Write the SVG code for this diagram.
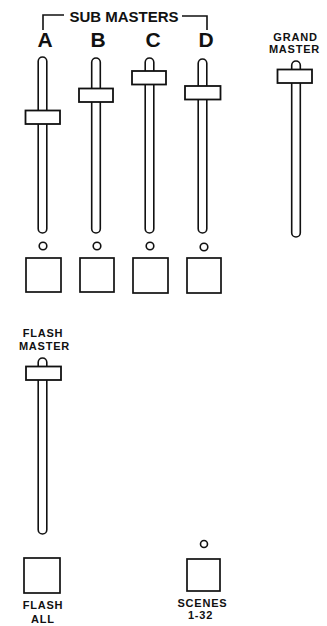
<svg xmlns="http://www.w3.org/2000/svg" width="327" height="626" viewBox="0 0 327 626">
<style>
.ln{fill:none;stroke:#111;stroke-width:1.6}
.trk{fill:#fff;stroke:#111;stroke-width:1.6}
.knob{fill:#fff;stroke:#111;stroke-width:1.8}
.btn{fill:#fff;stroke:#111;stroke-width:1.7}
.led{fill:#fff;stroke:#111;stroke-width:1.6}
.big{font-family:"Liberation Sans",Arial,sans-serif;font-weight:bold;font-size:21px;fill:#111;text-anchor:middle}
.hd{font-family:"Liberation Sans",Arial,sans-serif;font-weight:bold;font-size:15px;fill:#111;text-anchor:middle}
.sm{font-family:"Liberation Sans",Arial,sans-serif;font-weight:bold;font-size:11px;letter-spacing:0.8px;fill:#111;text-anchor:middle}
</style>
<g id="connectors">
<path class="ln" d="M43,30 V15 H64"/>
<path class="ln" d="M182,16 H207 V30"/>
</g>
<g id="sub-masters-label"><text class="hd" x="124" y="21.5">SUB MASTERS</text></g>
<g id="fader-A">
<text class="big" x="45" y="47">A</text>
<rect class="trk" x="38.2" y="57" width="8.6" height="176" rx="4.3"/>
<rect class="knob" x="25.5" y="110.5" width="34.5" height="13.5"/>
<circle class="led" cx="43" cy="246" r="3.8"/>
<rect class="btn" x="26" y="258" width="35" height="34"/>
</g>
<g id="fader-B">
<text class="big" x="98" y="47">B</text>
<rect class="trk" x="91.7" y="58" width="8.6" height="175" rx="4.3"/>
<rect class="knob" x="79" y="88.5" width="34" height="13.5"/>
<circle class="led" cx="97" cy="246" r="3.8"/>
<rect class="btn" x="80" y="258" width="34" height="34"/>
</g>
<g id="fader-C">
<text class="big" x="153" y="47">C</text>
<rect class="trk" x="145.2" y="58" width="8.6" height="175" rx="4.3"/>
<rect class="knob" x="132" y="71" width="34" height="13.5"/>
<circle class="led" cx="150" cy="246" r="3.8"/>
<rect class="btn" x="133" y="258" width="35" height="35"/>
</g>
<g id="fader-D">
<text class="big" x="206" y="47">D</text>
<rect class="trk" x="198.2" y="59" width="8.6" height="174" rx="4.3"/>
<rect class="knob" x="185" y="86" width="35.5" height="13.5"/>
<circle class="led" cx="204" cy="247" r="3.8"/>
<rect class="btn" x="187" y="258" width="34" height="35"/>
</g>
<g id="grand-master">
<text class="sm" x="295.5" y="41">GRAND</text>
<text class="sm" x="294.5" y="53">MASTER</text>
<rect class="trk" x="291.7" y="61" width="8.6" height="176" rx="4.3"/>
<rect class="knob" x="277.5" y="69.5" width="34.5" height="13.5"/>
</g>
<g id="flash-master">
<text class="sm" x="43" y="337">FLASH</text>
<text class="sm" x="44.5" y="349.5">MASTER</text>
<rect class="trk" x="38.2" y="358" width="8.6" height="176" rx="4.3"/>
<rect class="knob" x="26" y="366.5" width="35" height="13.5"/>
</g>
<g id="flash-all">
<rect class="btn" x="24" y="558" width="36" height="35"/>
<text class="sm" x="43" y="609">FLASH</text>
<text class="sm" x="43" y="622.5">ALL</text>
</g>
<g id="scenes">
<circle class="led" cx="204" cy="544" r="3.5"/>
<rect class="btn" x="187" y="559" width="33" height="32"/>
<text class="sm" x="202.5" y="606.5">SCENES</text>
<text class="sm" x="200.5" y="619">1-32</text>
</g>
</svg>
